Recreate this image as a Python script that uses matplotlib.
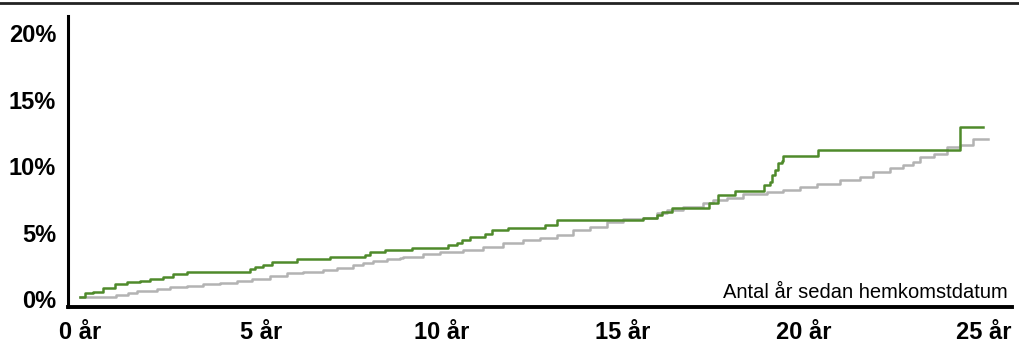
import matplotlib
matplotlib.use("Agg")
import matplotlib.pyplot as plt
from matplotlib.lines import Line2D

# years since return (step starts) and cumulative share in percent
green_years = [0, 0.14, 0.37, 0.64, 0.97, 1.29, 1.66, 1.94, 2.30, 2.58, 2.95, 4.70,
               4.84, 5.07, 5.30, 5.99, 6.91, 7.88, 8.02, 8.43, 9.17, 10.19, 10.42,
               10.56, 10.79, 11.20, 11.39, 11.84, 12.86, 13.18, 15.58, 15.95, 16.09,
               16.36, 17.38, 17.65, 18.11, 18.90, 19.08, 19.13, 19.22, 19.31, 19.41,
               19.45, 20.42, 24.34, 24.97]
green_pct = [0.17, 0.43, 0.55, 0.80, 1.11, 1.26, 1.38, 1.48, 1.68, 1.86, 2.03, 2.23,
             2.43, 2.56, 2.80, 2.98, 3.17, 3.31, 3.56, 3.68, 3.86, 4.06, 4.23,
             4.44, 4.68, 4.86, 5.19, 5.36, 5.56, 5.94, 6.11, 6.35, 6.52,
             6.82, 7.26, 7.82, 8.12, 8.57, 8.82, 9.32, 9.70, 10.20, 10.42,
             10.80, 11.23, 12.95, 12.95]

gray_years = [0, 1.01, 1.34, 1.57, 2.12, 2.49, 2.95, 3.41, 3.87, 4.33, 4.75, 5.25,
              5.72, 6.18, 6.73, 7.10, 7.56, 7.83, 8.11, 8.48, 8.85, 8.94, 9.49,
              9.96, 10.60, 11.15, 11.71, 12.26, 12.72, 13.18, 13.64, 14.10, 14.57,
              15.02, 15.58, 15.95, 16.22, 16.68, 17.24, 17.51, 17.88, 18.34, 18.99,
              19.45, 19.91, 20.37, 21.02, 21.57, 21.94, 22.40, 22.77, 23.04, 23.23,
              23.60, 23.97, 24.34, 24.70, 25.12]
gray_pct = [0.17, 0.30, 0.47, 0.60, 0.73, 0.88, 1.00, 1.11, 1.23, 1.38, 1.50, 1.73,
            1.93, 2.05, 2.18, 2.31, 2.56, 2.73, 2.86, 2.98, 3.06, 3.18, 3.36,
            3.51, 3.68, 3.93, 4.19, 4.44, 4.61, 4.81, 5.19, 5.44, 5.77,
            6.02, 6.11, 6.44, 6.69, 6.94, 7.20, 7.44, 7.57, 7.89, 8.07,
            8.20, 8.40, 8.65, 8.95, 9.20, 9.57, 9.83, 10.08, 10.32, 10.70,
            10.90, 11.45, 11.58, 12.08, 12.08]

x_ticks = [0, 5, 10, 15, 20, 25]
x_labels = ["0 år", "5 år", "10 år", "15 år", "20 år", "25 år"]
y_ticks = [0, 5, 10, 15, 20]
y_labels = ["0%", "5%", "10%", "15%", "20%"]

plt.rcParams['font.family'] = ['Liberation Sans', 'DejaVu Sans']

fig = plt.figure(figsize=(10.19, 3.42), dpi=100)
ax = fig.add_axes([68 / 1019, 35 / 342, (1012 - 68) / 1019, (307 - 16) / 342])

ax.step(gray_years, gray_pct, where='post', color='#b3b3b3', lw=1.8)
ax.step(green_years, green_pct, where='post', color='#4f8a2b', lw=1.8)

ax.set_xlim(-0.33, 25.77)
ax.set_ylim(-0.6, 21.3)

ax.set_xticks(x_ticks)
ax.set_xticklabels(x_labels, fontsize=17, fontweight='bold')
ax.set_yticks(y_ticks)
ax.set_yticklabels(y_labels, fontsize=17, fontweight='bold')
ax.tick_params(length=0)
ax.tick_params(axis='x', pad=10)
ax.tick_params(axis='y', pad=8.5)

for side in ['top', 'right']:
    ax.spines[side].set_visible(False)
ax.spines['left'].set_linewidth(2.2)
ax.spines['bottom'].set_linewidth(2.8)

ax.text(0.995, 0.031, "Antal år sedan hemkomstdatum", transform=ax.transAxes,
        ha='right', va='baseline', fontsize=14.5)

# dark rule along the top of the picture
fig.add_artist(Line2D([0, 1], [1 - 3 / 342, 1 - 3 / 342], transform=fig.transFigure,
                      color='#222222', lw=2))

fig.savefig("out.png", dpi=100)
